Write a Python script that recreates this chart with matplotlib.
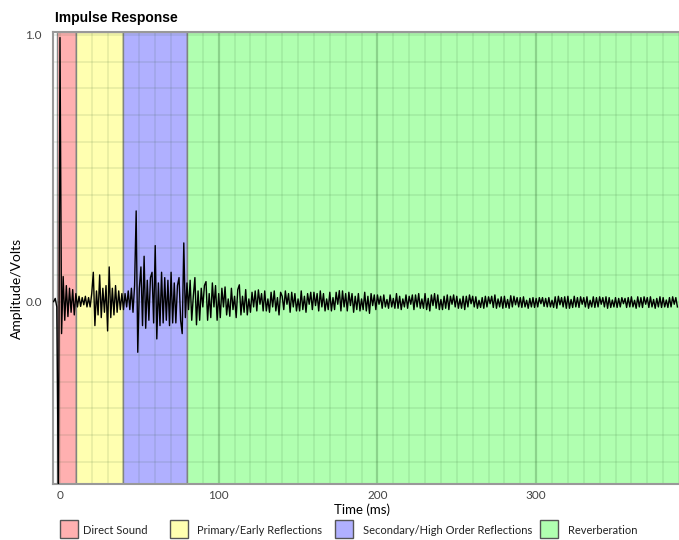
import numpy as np
import matplotlib
matplotlib.use("Agg")
import matplotlib.pyplot as plt
from matplotlib.patches import Rectangle

# Impulse response of a room, split into its four parts.

# one sample per ms, starting at -4 ms
start_ms = -4

# -4 .. 9 ms
amp_direct = [0.0, 0.012, -0.02, -0.75,
	0.99, -0.12, 0.094, -0.07, 0.06, -0.056, 0.05, -0.04, 0.045, -0.05]

# 10 .. 39 ms
amp_early = [
	0.03, -0.02, 0.02, -0.018, 0.015, -0.012, 0.02, -0.02, 0.015, -0.02,
	0.03, 0.11, -0.09, 0.04, -0.05, 0.10, -0.06, 0.05, -0.04, 0.06,
	-0.11, 0.13, -0.06, 0.05, -0.05, 0.06, -0.04, 0.04, -0.03, 0.03]

# 40 .. 79 ms
amp_secondary = [
	-0.03, 0.03, -0.02, 0.04, -0.03, 0.05, -0.04, 0.06, 0.34, -0.19,
	0.05, 0.13, -0.09, 0.17, -0.10, 0.08, -0.07, 0.09, 0.11, -0.08,
	0.21, -0.14, 0.07, -0.09, 0.11, -0.08, 0.09, -0.07, 0.08, -0.09,
	0.11, -0.08, 0.07, -0.08, 0.06, 0.09, -0.07, -0.12, 0.22, -0.06]

# 80 .. 389 ms
amp_reverb = [
	0.07, -0.03, 0.08, -0.07, 0.02, 0.09, -0.087, 0.04, -0.07, 0.05,
	-0.02, 0.06, 0.075, -0.07, 0.03, -0.06, 0.07, -0.02, 0.06, -0.07,
	0.03, -0.06, 0.05, -0.02, 0.055, -0.05, 0.01, -0.055, 0.05, -0.03,
	0.02, -0.06, 0.045, 0.063, -0.05, 0.02, -0.04, 0.045, -0.05, 0.01,
	-0.04, 0.035, -0.02, 0.04, -0.035, 0.044, -0.01, 0.03, -0.035, 0.04,
	-0.035, 0.01, -0.04, 0.035, -0.02, 0.04, -0.035, 0.015, -0.05, 0.035,
	0.02, -0.03, 0.04, -0.01, 0.03, -0.04, 0.035, -0.02, 0.03, -0.035,
	0.01, -0.035, 0.04, -0.03, 0.02, -0.04, 0.03, -0.01, 0.035, -0.03,
	0.035, -0.015, 0.03, -0.035, 0.04, -0.02, 0.03, -0.035, 0.01, -0.03,
	0.035, -0.035, 0.015, -0.03, 0.035, -0.01, 0.041, -0.035, 0.04, -0.02,
	0.03, -0.035, 0.035, -0.015, 0.03, -0.04, 0.02, -0.03, 0.03, -0.035,
	0.01, -0.03, 0.035, -0.035, 0.02, -0.044, 0.03, -0.015, 0.025, -0.03,
	0.025, -0.01, 0.02, -0.025, 0.025, -0.02, 0.008, -0.025, 0.025, -0.02,
	0.012, -0.025, 0.03, -0.025, 0.02, -0.03, 0.01, -0.02, 0.025, -0.025,
	0.02, -0.01, 0.025, -0.03, 0.025, -0.02, 0.03, -0.025, 0.01, -0.025,
	0.03, -0.03, 0.012, -0.035, 0.025, -0.015, 0.03, -0.025, 0.025, -0.03,
	0.008, -0.03, 0.02, -0.025, 0.025, -0.03, 0.02, -0.01, 0.025, -0.02,
	0.02, -0.025, 0.01, -0.025, 0.02, -0.03, 0.02, -0.02, 0.025, -0.008,
	0.02, -0.02, 0.018, -0.025, 0.005, -0.022, 0.015, -0.025, 0.02, -0.02,
	0.018, -0.008, 0.02, -0.022, 0.025, -0.025, 0.01, -0.02, 0.018, -0.025,
	0.02, -0.022, 0.008, -0.025, 0.022, -0.02, 0.02, -0.012, 0.015, -0.02,
	0.015, -0.022, 0.018, -0.02, 0.005, -0.025, 0.012, -0.02, 0.015, -0.022,
	0.012, -0.02, 0.015, -0.008, 0.015, -0.018, 0.012, -0.02, 0.015, -0.02,
	0.005, -0.022, 0.018, -0.025, 0.02, -0.012, 0.015, -0.02, 0.018, -0.025,
	0.02, -0.025, 0.008, -0.022, 0.02, -0.02, 0.015, -0.022, 0.018, -0.01,
	0.015, -0.02, 0.018, -0.025, 0.005, -0.02, 0.018, -0.022, 0.015, -0.02,
	0.018, -0.01, 0.015, -0.02, 0.018, -0.025, 0.015, -0.022, 0.006, -0.02,
	0.015, -0.022, 0.012, -0.02, 0.015, -0.008, 0.012, -0.022, 0.015, -0.02,
	0.018, -0.02, 0.005, -0.025, 0.018, -0.02, 0.015, -0.022, 0.018, -0.01,
	0.015, -0.022, 0.018, -0.02, 0.008, -0.025, 0.012, -0.02, 0.018, -0.022,
	0.015, -0.02, 0.006, -0.022, 0.015, -0.02, 0.018, -0.01, 0.015, -0.02]

region_names = ['Direct Sound', 'Primary/Early Reflections',
	'Secondary/High Order Reflections', 'Reverberation']
region_start = [-1.8, 10, 40, 80]
region_end = [10, 40, 80, 400]
region_colors = ['#ffb0b0', '#ffffb0', '#b0b0ff', '#b0ffb0']

x_ticks = [0, 100, 200, 300]
y_ticks = [0.0, 1.0]


def make_plot(t, amp):
	fig = plt.figure(figsize=(6.79, 5.40), dpi=100)
	W, H = 679.0, 540.0
	ax = fig.add_axes([53 / W, 56 / H, 626 / W, 452 / H])

	for s, e, c in zip(region_start, region_end, region_colors):
		ax.axvspan(s, e, facecolor=c, edgecolor='#8a8a8a', lw=1, zorder=0)

	# light grid every 10 ms / 0.1 V, darker every 100 ms
	for x in range(0, 400, 10):
		if x % 100 == 0 and x > 0:
			ax.axvline(x, color='#205020', alpha=0.25, lw=1.6, zorder=1)
		else:
			ax.axvline(x, color='#205020', alpha=0.1, lw=1.2, zorder=1)
	for y in np.arange(-0.6, 1.05, 0.1):
		ax.axhline(y, color='#205020', alpha=0.1, lw=1.2, zorder=1)

	ax.plot(t, amp, color='black', lw=1.0, zorder=3)

	ax.set_xlim(-4.4, 390)
	ax.set_ylim(-0.684, 1.011)
	ax.set_xticks(x_ticks)
	ax.set_xticklabels([str(v) for v in x_ticks])
	ax.set_yticks(y_ticks)
	ax.set_yticklabels(['%.1f' % v for v in y_ticks])
	ax.tick_params(length=0, labelsize=8.5, labelcolor='#444444')
	ax.tick_params(axis='x', pad=4)
	ax.tick_params(axis='y', pad=8)
	for lab in ax.get_xticklabels() + ax.get_yticklabels():
		lab.set_fontfamily('Lato')

	for side in ['left', 'top', 'bottom']:
		ax.spines[side].set_color('#999999')
		ax.spines[side].set_linewidth(1.5)
	ax.spines['right'].set_visible(False)

	fig.text(55 / W, 1 - 18 / H, 'Impulse Response', fontsize=10,
		fontweight='bold', family='Liberation Sans', va='center', ha='left')
	fig.text(17 / W, 1 - 288 / H, 'Amplitude/Volts', rotation=90, fontsize=10,
		family='Lato', va='center', ha='center')
	fig.text(362 / W, 1 - 510 / H, 'Time (ms)', fontsize=9.5,
		family='Lato', va='center', ha='center')

	# legend row under the axis
	patch_x = [60, 170, 335, 540]
	text_x = [83, 197, 363, 568]
	for px, tx, name, c in zip(patch_x, text_x, region_names, region_colors):
		fig.patches.append(Rectangle((px / W, 1 - 538 / H), 18 / W, 18 / H,
			facecolor=c, edgecolor='#555555', lw=1, transform=fig.transFigure))
		fig.text(tx / W, 1 - 530 / H, name, fontsize=8,
			family='Lato', va='center', ha='left', color='#222222')

	fig.savefig('out.png', dpi=100)


def main():
	amp = amp_direct + amp_early + amp_secondary + amp_reverb
	t = np.arange(len(amp)) + start_ms
	make_plot(t, amp)


if __name__ == "__main__":
	main()
